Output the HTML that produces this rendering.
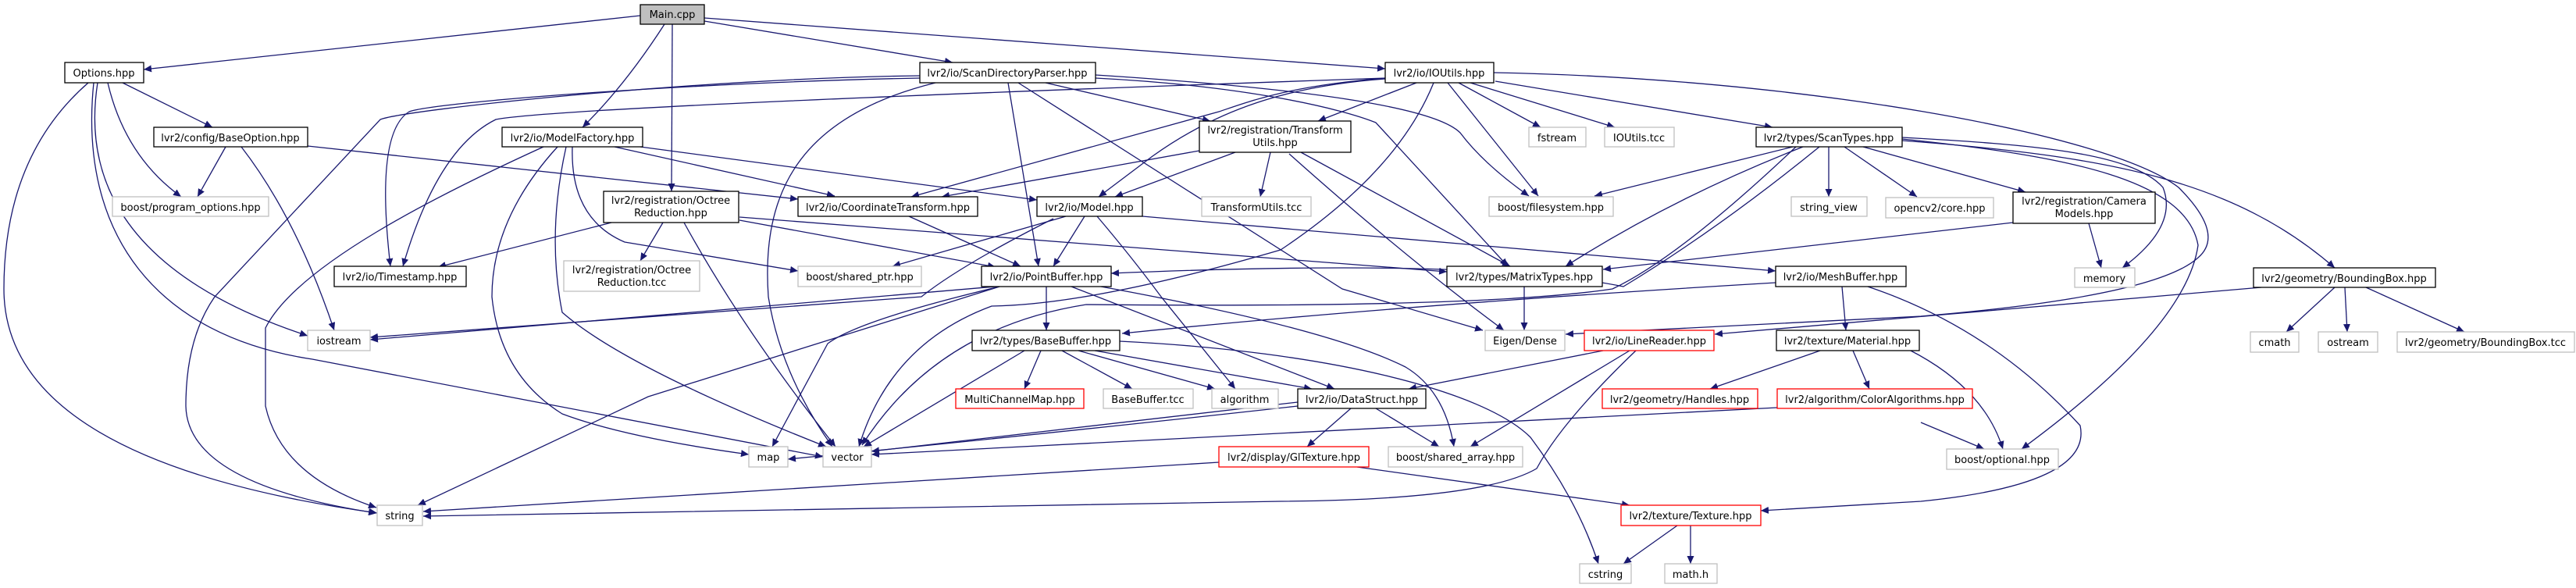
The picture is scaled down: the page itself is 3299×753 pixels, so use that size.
<!DOCTYPE html>
<html><head><meta charset="utf-8"><style>
html,body{margin:0;padding:0;background:#fff;}
svg{display:block;}
text{font-family:"DejaVu Sans","Liberation Sans",sans-serif;font-size:13px;fill:#000;}
.e{fill:none;stroke:#191970;stroke-width:1.3;marker-end:url(#a);}
.b{fill:#fff;stroke:#000;stroke-width:1.3;}
.g{fill:#fff;stroke:#bfbfbf;stroke-width:1.3;}
.r{fill:#fff;stroke:#ff0000;stroke-width:1.3;}
</style></head><body>
<svg width="3299" height="753" viewBox="0 0 3299 753" xmlns="http://www.w3.org/2000/svg">
<defs><marker id="a" markerUnits="userSpaceOnUse" markerWidth="11" markerHeight="9" refX="10" refY="4.5" orient="auto"><path d="M0,0 L10,4.5 L0,9 z" fill="#191970"/></marker></defs>
<g>
<path class="e" d="M820,20 L184,89"/>
<path class="e" d="M851,31 Q800,110 746,163"/>
<path class="e" d="M861,31 L860,245"/>
<path class="e" d="M902,27 L1220,80"/>
<path class="e" d="M902,23 L1774,88"/>
<path class="e" d="M157,106 L272,163"/>
<path class="e" d="M138,106 Q160,200 232,252"/>
<path class="e" d="M125,106 Q90,330 394,430"/>
<path class="e" d="M113,106 Q5,200 5,370 Q5,590 483,657"/>
<path class="e" d="M120,106 C100,300 200,430 400,460 L1054,585"/>
<path class="e" d="M289,188 L253,252"/>
<path class="e" d="M309,188 Q380,280 428,423"/>
<path class="e" d="M394,187 L1022,255"/>
<path class="e" d="M787,188 L1069,251"/>
<path class="e" d="M820,188 L1328,256"/>
<path class="e" d="M696,188 C560,250 380,340 340,420 L340,520 Q360,610 482,650"/>
<path class="e" d="M1178,97 C900,100 520,140 487,153 L275,380 Q238,433 238,520 Q240,620 482,657"/>
<path class="e" d="M1178,100 C900,105 560,130 524,143 Q480,170 500,341"/>
<path class="e" d="M1774,100 C1200,120 700,140 635,153 Q560,190 516,341"/>
<path class="e" d="M714,188 Q630,280 630,380 Q640,480 720,530 Q800,560 959,582"/>
<path class="e" d="M725,188 Q700,300 720,400 Q800,470 1058,572"/>
<path class="e" d="M733,188 Q730,280 800,310 L1022,347"/>
<path class="e" d="M783,285 L561,342"/>
<path class="e" d="M849,285 L820,334"/>
<path class="e" d="M876,285 Q950,420 1070,572"/>
<path class="e" d="M947,282 L1275,342"/>
<path class="e" d="M947,278 L1853,348"/>
<path class="e" d="M1198,106 C1020,150 975,250 984,380 Q1000,480 1066,572"/>
<path class="e" d="M1291,106 L1330,341"/>
<path class="e" d="M1304,106 L1719,370 L1899,423"/>
<path class="e" d="M1339,106 L1550,155"/>
<path class="e" d="M1403,96 C1700,115 1840,140 1870,170 Q1900,210 1958,251"/>
<path class="e" d="M1403,100 C1600,110 1720,140 1762,157 L1931,341"/>
<path class="e" d="M1774,100 C1650,110 1600,130 1561,143 L1167,252"/>
<path class="e" d="M1774,101 C1650,110 1560,140 1476,200 L1407,252"/>
<path class="e" d="M1536,193 L1206,252"/>
<path class="e" d="M1582,195 L1428,252"/>
<path class="e" d="M1627,195 L1614,252"/>
<path class="e" d="M1666,195 L1934,341"/>
<path class="e" d="M1651,197 Q1800,330 1926,423"/>
<path class="e" d="M1164,277 L1307,341"/>
<path class="e" d="M1389,277 L1349,341"/>
<path class="e" d="M1365,277 L1143,341"/>
<path class="e" d="M1349,280 Q1230,340 1180,380 L474,432"/>
<path class="e" d="M1275,367 L474,435"/>
<path class="e" d="M1405,277 Q1450,330 1487,380 L1582,498"/>
<path class="e" d="M1463,277 L2274,347"/>
<path class="e" d="M1340,367 L1340,423"/>
<path class="e" d="M1372,367 L1709,498"/>
<path class="e" d="M1434,437 C1700,450 1900,500 1960,560 Q2020,640 2047,722"/>
<path class="e" d="M1410,367 Q1700,420 1800,470 Q1850,500 1862,572"/>
<path class="e" d="M1280,367 Q1100,410 1060,440 L989,572"/>
<path class="e" d="M1280,367 L830,508 L535,647"/>
<path class="e" d="M1836,106 Q1790,220 1640,320 Q1400,390 1270,392 Q1140,440 1100,572"/>
<path class="e" d="M2300,188 Q2150,330 2065,370 Q1900,395 1391,390 Q1200,420 1104,570"/>
<path class="e" d="M2296,188 L2042,251"/>
<path class="e" d="M2309,188 Q2143,253 2005,341"/>
<path class="e" d="M2330,188 Q2201,293 2079,367 Q1900,330 1423,350"/>
<path class="e" d="M2342,188 L2342,252"/>
<path class="e" d="M2362,188 L2455,252"/>
<path class="e" d="M2386,188 L2594,246"/>
<path class="e" d="M2436,176 C2600,185 2730,195 2770,240 Q2790,290 2718,343"/>
<path class="e" d="M2436,180 C2700,200 2860,230 2990,343"/>
<path class="e" d="M2436,178 C2650,200 2800,230 2815,314 Q2800,420 2589,575"/>
<path class="e" d="M1913,93 C2300,100 2700,170 2790,240 Q2850,300 2815,330 Q2760,380 2460,405 L2005,428"/>
<path class="e" d="M2460,541 L2541,575"/>
<path class="e" d="M2445,448 Q2541,497 2565,575"/>
<path class="e" d="M2331,449 L2190,498"/>
<path class="e" d="M2373,449 L2394,498"/>
<path class="e" d="M2359,367 L2364,423"/>
<path class="e" d="M2274,362 Q1800,390 1437,427"/>
<path class="e" d="M2392,367 Q2550,420 2664,545 Q2680,620 2460,642 L2255,654"/>
<path class="e" d="M2276,522 L1116,582"/>
<path class="e" d="M2053,449 L1804,498"/>
<path class="e" d="M2087,449 L1883,572"/>
<path class="e" d="M2095,449 Q2000,540 1968,600 Q1900,640 1640,642 L542,661"/>
<path class="e" d="M1561,592 L542,655"/>
<path class="e" d="M1738,598 L2087,647"/>
<path class="e" d="M1730,523 L1674,572"/>
<path class="e" d="M1762,523 L1843,572"/>
<path class="e" d="M1662,515 L1116,578"/>
<path class="e" d="M1662,520 Q1300,560 1009,588"/>
<path class="e" d="M1333,449 L1312,498"/>
<path class="e" d="M1360,449 L1450,498"/>
<path class="e" d="M1381,449 L1556,498"/>
<path class="e" d="M1402,449 L1680,498"/>
<path class="e" d="M1312,449 L1106,572"/>
<path class="e" d="M2148,673 L2079,722"/>
<path class="e" d="M2165,673 L2165,722"/>
<path class="e" d="M2990,368 L2928,425"/>
<path class="e" d="M3003,368 L3006,425"/>
<path class="e" d="M3030,368 L3156,425"/>
<path class="e" d="M2896,368 L2196,428"/>
<path class="e" d="M2675,286 L2691,343"/>
<path class="e" d="M2578,285 L2053,345"/>
<path class="e" d="M1952,367 L1952,423"/>
<path class="e" d="M1915,104 L2270,163"/>
<path class="e" d="M1868,106 L1973,163"/>
<path class="e" d="M1883,106 L2068,163"/>
<path class="e" d="M1854,106 L1970,251"/>
<path class="e" d="M1814,106 L1688,155"/>
</g>
<g>
<rect x="820" y="6" width="82" height="25" fill="#bfbfbf" stroke="#000" stroke-width="1.3"/><text x="861" y="23" text-anchor="middle">Main.cpp</text>
<rect class="b" x="83" y="80" width="101" height="26"/><text x="133" y="98" text-anchor="middle">Options.hpp</text>
<rect class="b" x="1178" y="80" width="225" height="26"/><text x="1290" y="98" text-anchor="middle">lvr2/io/ScanDirectoryParser.hpp</text>
<rect class="b" x="1774" y="80" width="139" height="26"/><text x="1843" y="98" text-anchor="middle">lvr2/io/IOUtils.hpp</text>
<rect class="b" x="197" y="163" width="197" height="25"/><text x="295" y="181" text-anchor="middle">lvr2/config/BaseOption.hpp</text>
<rect class="b" x="643" y="163" width="180" height="25"/><text x="733" y="181" text-anchor="middle">lvr2/io/ModelFactory.hpp</text>
<rect class="b" x="1536" y="155" width="194" height="40"/><text x="1633" y="171" text-anchor="middle">lvr2/registration/Transform</text><text x="1633" y="187" text-anchor="middle">Utils.hpp</text>
<rect class="g" x="1958" y="163" width="73" height="25"/><text x="1994" y="181" text-anchor="middle">fstream</text>
<rect class="g" x="2055" y="163" width="89" height="25"/><text x="2099" y="181" text-anchor="middle">IOUtils.tcc</text>
<rect class="b" x="2249" y="163" width="187" height="25"/><text x="2342" y="181" text-anchor="middle">lvr2/types/ScanTypes.hpp</text>
<rect class="g" x="144" y="252" width="200" height="25"/><text x="244" y="270" text-anchor="middle">boost/program_options.hpp</text>
<rect class="b" x="773" y="245" width="173" height="40"/><text x="859" y="261" text-anchor="middle">lvr2/registration/Octree</text><text x="859" y="277" text-anchor="middle">Reduction.hpp</text>
<rect class="b" x="1022" y="252" width="230" height="25"/><text x="1137" y="270" text-anchor="middle">lvr2/io/CoordinateTransform.hpp</text>
<rect class="b" x="1328" y="252" width="135" height="25"/><text x="1395" y="270" text-anchor="middle">lvr2/io/Model.hpp</text>
<rect class="g" x="1539" y="252" width="140" height="25"/><text x="1609" y="270" text-anchor="middle">TransformUtils.tcc</text>
<rect class="g" x="1907" y="252" width="159" height="25"/><text x="1986" y="270" text-anchor="middle">boost/filesystem.hpp</text>
<rect class="g" x="2294" y="252" width="97" height="25"/><text x="2342" y="270" text-anchor="middle">string_view</text>
<rect class="g" x="2415" y="253" width="138" height="26"/><text x="2484" y="271" text-anchor="middle">opencv2/core.hpp</text>
<rect class="b" x="2578" y="246" width="182" height="40"/><text x="2669" y="262" text-anchor="middle">lvr2/registration/Camera</text><text x="2669" y="278" text-anchor="middle">Models.hpp</text>
<rect class="b" x="428" y="341" width="169" height="26"/><text x="512" y="359" text-anchor="middle">lvr2/io/Timestamp.hpp</text>
<rect class="g" x="722" y="334" width="174" height="39"/><text x="809" y="350" text-anchor="middle">lvr2/registration/Octree</text><text x="809" y="366" text-anchor="middle">Reduction.tcc</text>
<rect class="g" x="1022" y="341" width="158" height="26"/><text x="1101" y="359" text-anchor="middle">boost/shared_ptr.hpp</text>
<rect class="b" x="1257" y="341" width="166" height="26"/><text x="1340" y="359" text-anchor="middle">lvr2/io/PointBuffer.hpp</text>
<rect class="b" x="1853" y="341" width="199" height="26"/><text x="1952" y="359" text-anchor="middle">lvr2/types/MatrixTypes.hpp</text>
<rect class="b" x="2274" y="341" width="167" height="26"/><text x="2357" y="359" text-anchor="middle">lvr2/io/MeshBuffer.hpp</text>
<rect class="g" x="2657" y="343" width="77" height="25"/><text x="2695" y="361" text-anchor="middle">memory</text>
<rect class="b" x="2886" y="343" width="233" height="25"/><text x="3002" y="361" text-anchor="middle">lvr2/geometry/BoundingBox.hpp</text>
<rect class="g" x="394" y="423" width="80" height="26"/><text x="434" y="441" text-anchor="middle">iostream</text>
<rect class="b" x="1245" y="423" width="189" height="26"/><text x="1339" y="441" text-anchor="middle">lvr2/types/BaseBuffer.hpp</text>
<rect class="g" x="1902" y="423" width="102" height="26"/><text x="1953" y="441" text-anchor="middle">Eigen/Dense</text>
<rect class="r" x="2029" y="423" width="166" height="26"/><text x="2112" y="441" text-anchor="middle">lvr2/io/LineReader.hpp</text>
<rect class="b" x="2275" y="423" width="183" height="26"/><text x="2366" y="441" text-anchor="middle">lvr2/texture/Material.hpp</text>
<rect class="g" x="2882" y="425" width="62" height="26"/><text x="2913" y="443" text-anchor="middle">cmath</text>
<rect class="g" x="2969" y="425" width="76" height="26"/><text x="3007" y="443" text-anchor="middle">ostream</text>
<rect class="g" x="3070" y="425" width="227" height="26"/><text x="3183" y="443" text-anchor="middle">lvr2/geometry/BoundingBox.tcc</text>
<rect class="r" x="1224" y="498" width="164" height="25"/><text x="1306" y="516" text-anchor="middle">MultiChannelMap.hpp</text>
<rect class="g" x="1413" y="498" width="115" height="25"/><text x="1470" y="516" text-anchor="middle">BaseBuffer.tcc</text>
<rect class="g" x="1552" y="498" width="85" height="25"/><text x="1594" y="516" text-anchor="middle">algorithm</text>
<rect class="b" x="1662" y="498" width="164" height="25"/><text x="1744" y="516" text-anchor="middle">lvr2/io/DataStruct.hpp</text>
<rect class="r" x="2052" y="498" width="199" height="25"/><text x="2151" y="516" text-anchor="middle">lvr2/geometry/Handles.hpp</text>
<rect class="r" x="2276" y="498" width="250" height="25"/><text x="2401" y="516" text-anchor="middle">lvr2/algorithm/ColorAlgorithms.hpp</text>
<rect class="g" x="959" y="572" width="50" height="26"/><text x="984" y="590" text-anchor="middle">map</text>
<rect class="g" x="1054" y="572" width="62" height="26"/><text x="1085" y="590" text-anchor="middle">vector</text>
<rect class="r" x="1561" y="572" width="192" height="26"/><text x="1657" y="590" text-anchor="middle">lvr2/display/GlTexture.hpp</text>
<rect class="g" x="1778" y="572" width="172" height="26"/><text x="1864" y="590" text-anchor="middle">boost/shared_array.hpp</text>
<rect class="g" x="2493" y="575" width="143" height="26"/><text x="2564" y="593" text-anchor="middle">boost/optional.hpp</text>
<rect class="g" x="483" y="647" width="58" height="26"/><text x="512" y="665" text-anchor="middle">string</text>
<rect class="r" x="2076" y="647" width="179" height="26"/><text x="2165" y="665" text-anchor="middle">lvr2/texture/Texture.hpp</text>
<rect class="g" x="2023" y="722" width="66" height="25"/><text x="2056" y="740" text-anchor="middle">cstring</text>
<rect class="g" x="2132" y="722" width="67" height="25"/><text x="2165" y="740" text-anchor="middle">math.h</text>
</g>
</svg>
</body></html>
